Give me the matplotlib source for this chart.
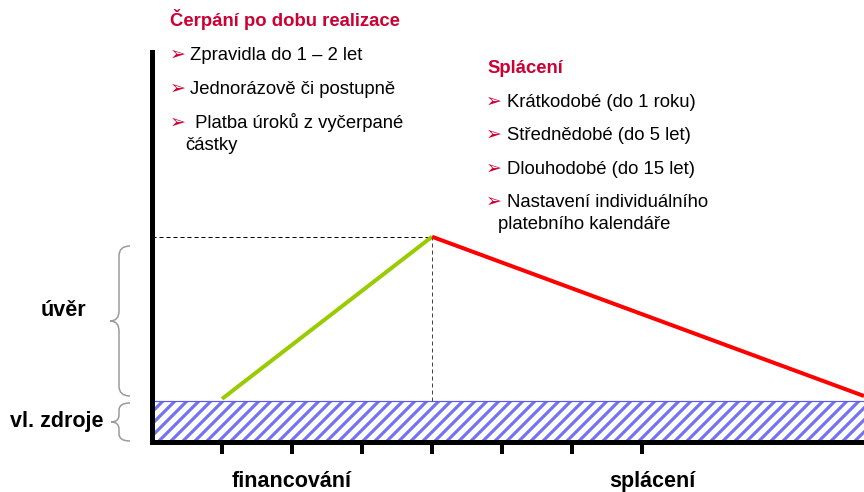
import matplotlib
matplotlib.use("Agg")
import matplotlib.pyplot as plt
from matplotlib.patches import Rectangle, PathPatch
from matplotlib.path import Path
from matplotlib.transforms import Affine2D

plt.rcParams['font.family'] = ['Liberation Sans', 'DejaVu Sans']
plt.rcParams['hatch.linewidth'] = 3.2

# --- data (time in periods, height in units of own funds) ---
period_ticks = [1, 2, 3, 4, 5, 6, 7]
x_end = 10.17
y_top = 9.5
own_funds = 1.0
draw_x = [1.0, 4.0]          # cerpani uveru
draw_y = [1.05, 5.0]
repay_x = [4.0, 10.17]       # splaceni
repay_y = [5.0, 1.12]
peak_x, peak_y = 4.0, 5.0

phase_labels = ["financování", "splácení"]
side_labels = ["úvěr", "vl. zdroje"]
draw_title = "Čerpání po dobu realizace"
draw_items = [["Zpravidla do 1 – 2 let"],
              ["Jednorázově či postupně"],
              [" Platba úroků z vyčerpané", "částky"]]
repay_title = "Splácení"
repay_items = [["Krátkodobé (do 1 roku)"],
               ["Střednědobé (do 5 let)"],
               ["Dlouhodobé (do 15 let)"],
               ["Nastavení individuálního", "platebního kalendáře"]]

W, H = 864, 492
RED_TXT = '#CC0033'
fig = plt.figure(figsize=(W / 72, H / 72), dpi=72)
px = Affine2D().scale(1 / W, -1 / H).translate(0, 1) + fig.transFigure

# axes placed in pixel box: x 152..864, y 52..442
ax = fig.add_axes([152 / W, (H - 442) / H, (W - 152) / W, (442 - 52) / H])
ax.set_xlim(0, x_end)
ax.set_ylim(0, y_top)
for s in ['top', 'right']:
    ax.spines[s].set_visible(False)
for s in ['left', 'bottom']:
    ax.spines[s].set_linewidth(5)
ax.set_xticks(period_ticks)
ax.set_yticks([])
ax.tick_params(axis='x', direction='out', length=12, width=4, labelbottom=False)

# own funds band
ax.add_patch(Rectangle((0, 0), x_end, own_funds, facecolor='white',
                       edgecolor='#7474f2', hatch='//', linewidth=0, zorder=1))
ax.plot([0, x_end], [own_funds, own_funds], color='#5c5ce8', lw=1.2, zorder=2)

# helper dashed lines to the peak
ax.plot([0, peak_x], [peak_y, peak_y], color='black', lw=1, dashes=(4, 3))
ax.plot([peak_x, peak_x], [own_funds, peak_y], color='#444444', lw=1, dashes=(4, 3))

ax.plot(draw_x, draw_y, color='#99CC00', lw=4, solid_capstyle='butt', zorder=3)
ax.plot(repay_x, repay_y, color='#FF0000', lw=4, solid_capstyle='butt', zorder=3)


def brace(x_e, x_m, x_t, top, tip, bottom, r):
    verts = [(x_e, top), (x_m, top), (x_m, top + r),
             (x_m, tip - r), (x_m, tip), (x_t, tip),
             (x_m, tip), (x_m, tip + r),
             (x_m, bottom - r), (x_m, bottom), (x_e, bottom)]
    codes = [Path.MOVETO, Path.CURVE3, Path.CURVE3,
             Path.LINETO, Path.CURVE3, Path.CURVE3,
             Path.CURVE3, Path.CURVE3,
             Path.LINETO, Path.CURVE3, Path.CURVE3]
    fig.add_artist(PathPatch(Path(verts, codes), transform=px, fill=False,
                             edgecolor='#999999', lw=1.5))


brace(130, 119, 110, 246, 321, 396, 10)
brace(130, 119, 111, 403, 422, 441, 7)

fig.text(63, 311, side_labels[0], transform=px, ha='center', va='center',
         fontsize=21.5, fontweight='bold')
fig.text(57, 421, side_labels[1], transform=px, ha='center', va='center',
         fontsize=21.5, fontweight='bold')
fig.text(292, 487, phase_labels[0], transform=px, ha='center', va='baseline',
         fontsize=21.5, fontweight='bold')
fig.text(652, 487, phase_labels[1], transform=px, ha='center', va='baseline',
         fontsize=21.5, fontweight='bold')


def bullet_block(title, items, x_title, y_title, x_arrow, x_text, x_wrap, ys):
    fig.text(x_title, y_title, title, transform=px, color=RED_TXT,
             fontsize=18.5, fontweight='bold', va='baseline')
    for lines, y in zip(items, ys):
        fig.text(x_arrow, y, "➢", transform=px, color=RED_TXT, fontsize=19,
                 va='baseline', family='DejaVu Sans')
        fig.text(x_text, y, lines[0], transform=px, fontsize=18.5, va='baseline')
        for k, extra in enumerate(lines[1:], 1):
            fig.text(x_wrap, y + 22 * k, extra, transform=px, fontsize=18.5,
                     va='baseline')


bullet_block(draw_title, draw_items, 170, 26, 170, 190, 185, [60, 94, 128])
bullet_block(repay_title, repay_items, 487, 73, 486, 507, 498, [107, 140, 174, 207])

fig.savefig("out.png", dpi=72)
